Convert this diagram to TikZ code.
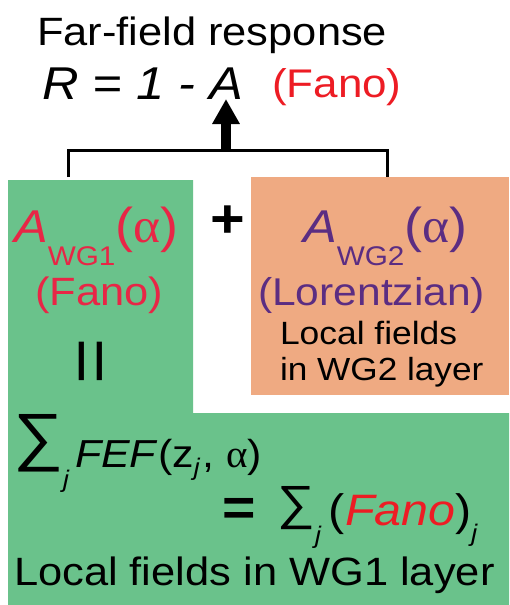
\documentclass[tikz,border=0pt]{standalone}
\usepackage{fontspec}
\setmainfont[FakeStretch=1.1]{Liberation Sans}
\newfontfamily\greekfont[FakeStretch=1.05]{Liberation Serif}
\usetikzlibrary{arrows.meta}
\definecolor{wgonegreen}{RGB}{106,194,139}
\definecolor{wgtwoorange}{RGB}{239,170,130}
\definecolor{fanored}{RGB}{237,28,36}
\definecolor{wgonered}{RGB}{232,38,70}
\definecolor{lorpurple}{RGB}{91,45,130}
\newcommand{\fsz}[1]{\fontsize{#1}{#1}\selectfont}
\newcommand{\alp}{{\greekfont α}}
\newcommand{\subtxt}[3]{\raisebox{-#1}{\fsz{#2}#3}}

\begin{document}
\begin{tikzpicture}[x=1pt,y=-1pt,>={Triangle[width=26pt,length=25pt]},
  txt/.style={anchor=base west,inner sep=0pt,outer sep=0pt}]
  \useasboundingbox (0,0) rectangle (509,605);
  % layers
  \fill[wgonegreen] (8,180) -- (193,180) -- (193,413) -- (509,413) -- (509,605) -- (8,605) -- cycle;
  \fill[wgtwoorange] (251,177) rectangle (509,395);

  % far field
  \node[txt] (title) at (37,45) {\fsz{39.5}Far-field response};
  \node[txt] (rhs) at (42,99) {\fsz{46}\itshape R = 1 - A};
  \node[txt,text=fanored] (fano) at (272,97) {\fsz{40}(Fano)};

  % WG1
  \node[txt,text=wgonered] (awgone) at (14,242)
    {\fsz{46}\textit{A}\subtxt{23pt}{27}{WG1}{\fsz{49}(\alp)}};
  \node[txt,text=wgonered] (fanoone) at (35,305) {\fsz{39.5}(Fano)};
  \node[rotate=90,inner sep=0pt] (eq) at (97,361) {\fsz{72}=};
  \node[font=\bfseries] (plus) at (228,222) {\fsz{54}+};

  % WG2
  \node[txt,text=lorpurple] (awgtwo) at (303,242)
    {\fsz{46}\textit{A}\subtxt{23pt}{27}{WG2}{\fsz{49}(\alp)}};
  \node[txt,text=lorpurple] (lor) at (258,305) {\fsz{38.7}(Lorentzian)};
  \node[txt] (loctwo) at (280,344) {\fsz{32.2}Local fields};
  \node[txt] (loctwob) at (280,380) {\fsz{32}in WG2 layer};

  % sum over WG1
  \node[txt] (fef) at (13,467)
    {\fsz{39}\raisebox{9pt}{\fsz{64}∑}\subtxt{20pt}{24}{\itshape j}\hspace{6pt}\textit{FEF}(z\subtxt{8pt}{24}{\itshape j}\hspace{3pt}, \alp)};
  \node[txt] (fanosum) at (222,525)
    {\fsz{44}{\bfseries\fsz{52}=}\hspace{22pt}\raisebox{6pt}{\fsz{48}∑}\subtxt{18pt}{24}{\itshape j}\hspace{8pt}(\textcolor{fanored}{\itshape Fano})\subtxt{16pt}{24}{\itshape j}};
  \node[txt] (locone) at (14,585) {\fsz{39.5}Local fields in WG1 layer};

  % bracket and arrow
  \coordinate (bl) at (68,177);
  \coordinate (br) at (387,177);
  \coordinate (bm) at (226,150);
  \draw[line width=3pt] (bl) -- ++(0,-27) -| (br);
  \draw[->,line width=10pt] (bm) -- (bm |- rhs.south);
\end{tikzpicture}
\end{document}
